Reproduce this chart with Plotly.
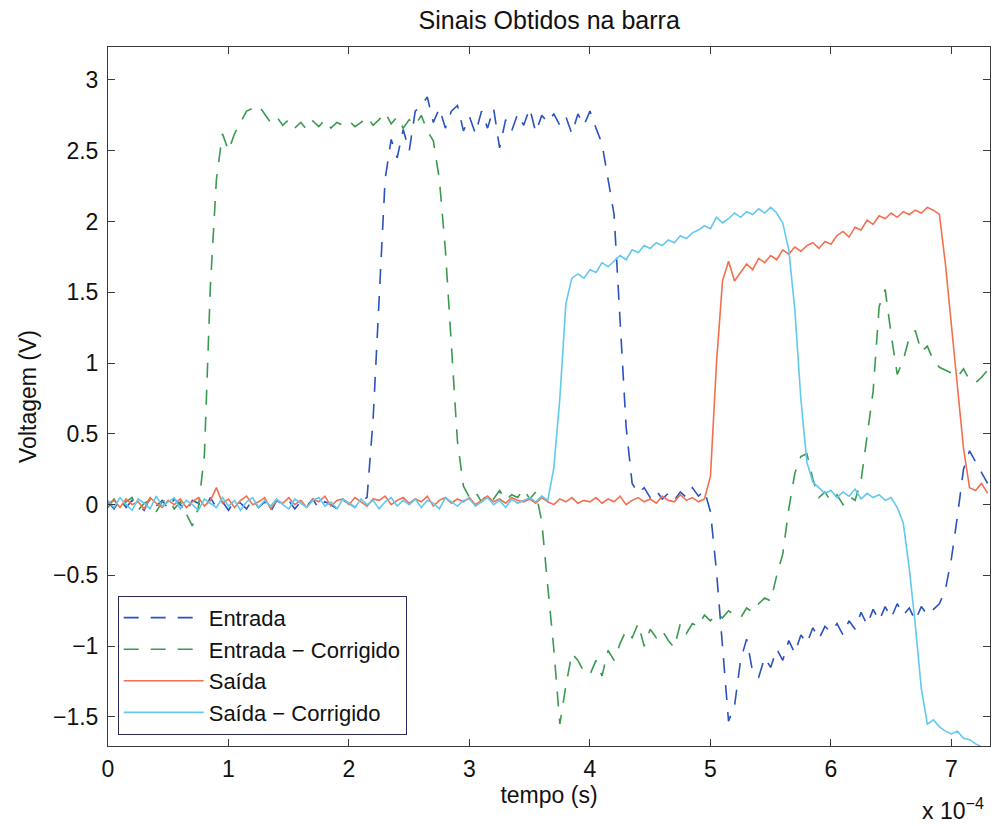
import plotly.graph_objects as go

# time base in units of 1e-4 s (sample spacing 0.05e-4 s), 0 .. 7.30
t = [round(i * 0.05, 2) for i in range(147)]

entrada = [
    0.02, -0.03, 0.04, -0.02, 0.03, 0.00, -0.04, 0.05, -0.01, 0.03,
    -0.03, 0.04, 0.00, -0.05, 0.03, 0.01, -0.03, 0.05, -0.02, 0.02,
    -0.04, 0.03, 0.01, -0.03, 0.04, -0.02, 0.02, -0.05, 0.03, 0.00,
    0.03, -0.03, 0.02, -0.01, 0.04, -0.03, 0.02, 0.00, -0.03, 0.03,
    0.01, -0.02, 0.03, 0.05, 0.60, 1.50, 2.30, 2.58, 2.45, 2.65,
    2.50, 2.78, 2.82, 2.88, 2.70, 2.80, 2.66, 2.78, 2.82, 2.64,
    2.74, 2.62, 2.78, 2.66, 2.80, 2.52, 2.72, 2.64, 2.76, 2.68,
    2.80, 2.63, 2.75, 2.70, 2.76, 2.68, 2.74, 2.62, 2.76, 2.68,
    2.78, 2.66, 2.55, 2.30, 2.05, 1.30, 0.55, 0.15, 0.08, 0.12,
    0.05, 0.10, 0.04, 0.08, 0.03, 0.09, 0.05, 0.12, 0.06, 0.10,
    -0.05, -0.47, -1.00, -1.53, -1.42, -1.10, -0.95, -1.18, -1.22, -1.08,
    -1.15, -1.02, -1.10, -0.96, -1.05, -0.92, -0.98, -0.87, -0.95, -0.86,
    -0.90, -0.84, -0.92, -0.82, -0.88, -0.76, -0.85, -0.74, -0.82, -0.72,
    -0.80, -0.70, -0.78, -0.73, -0.82, -0.72, -0.78, -0.74, -0.70, -0.60,
    -0.38, -0.08, 0.25, 0.38, 0.30, 0.22, 0.15,
]

entrada_corrigido = [
    -0.02, 0.04, -0.03, 0.02, 0.05, -0.04, 0.01, 0.03, -0.05, 0.02,
    0.04, -0.03, 0.02, -0.06, -0.15, -0.02, 0.35, 1.55, 2.30, 2.62,
    2.50, 2.62, 2.70, 2.78, 2.80, 2.82, 2.76, 2.70, 2.74, 2.68,
    2.72, 2.66, 2.70, 2.65, 2.71, 2.67, 2.72, 2.66, 2.70, 2.68,
    2.71, 2.67, 2.70, 2.74, 2.68, 2.72, 2.77, 2.69, 2.74, 2.66,
    2.72, 2.68, 2.75, 2.64, 2.57, 2.30, 1.80, 1.15, 0.45, 0.13,
    0.05, 0.09, 0.02, 0.08, 0.04, 0.10, 0.03, 0.07, 0.05, 0.11,
    0.04, 0.09, -0.12, -0.58, -1.02, -1.55, -1.28, -1.05, -1.10, -1.18,
    -1.20, -1.10, -1.21, -1.03, -1.10, -0.98, -0.89, -0.94, -0.84, -1.00,
    -0.88, -0.94, -0.89, -0.96, -1.01, -0.84, -0.91, -0.84, -0.86, -0.78,
    -0.82, -0.77, -0.80, -0.75, -0.78, -0.80, -0.73, -0.76, -0.70, -0.66,
    -0.68, -0.50, -0.35, -0.03, 0.22, 0.34, 0.36, 0.18, 0.05, 0.09,
    0.02, 0.07, 0.00, 0.06, 0.03, 0.17, 0.50, 0.80, 1.40, 1.52,
    1.20, 0.92, 1.02, 1.18, 1.23, 1.08, 1.12, 1.02, 0.97, 0.95,
    0.93, 0.90, 0.96, 0.88, 0.86, 0.90, 0.95,
]

saida = [
    0.01, 0.03, -0.02, 0.04, 0.00, 0.02, -0.03, 0.05, 0.01, -0.02,
    0.03, 0.00, 0.04, -0.02, 0.02, 0.05, -0.01, 0.03, 0.12, 0.01,
    0.04, -0.02, 0.03, 0.06, 0.00, 0.02, 0.05, -0.03, 0.03, 0.01,
    0.05, 0.00, 0.03, -0.02, 0.04, 0.02, 0.06, -0.01, 0.03, 0.04,
    0.00, 0.05, 0.02, -0.01, 0.04, 0.03, 0.06, 0.00, 0.03, 0.05,
    0.01, 0.04, 0.02, 0.06, -0.01, 0.03, 0.05, 0.01, 0.04, 0.02,
    0.05, 0.00, 0.03, 0.06, 0.02, 0.04, 0.01, 0.05, 0.03, 0.02,
    0.04, 0.01, 0.05, 0.02, 0.00, 0.04, 0.02, 0.05, 0.01, 0.03,
    0.02, 0.05, 0.01, 0.04, 0.02, 0.06, 0.00, 0.03, 0.05, 0.02,
    0.04, 0.01, 0.06, 0.03, 0.02, 0.07, 0.03, 0.05, 0.02, 0.04,
    0.20, 1.00, 1.58, 1.72, 1.58, 1.64, 1.70, 1.66, 1.74, 1.71,
    1.76, 1.73, 1.80, 1.77, 1.82, 1.79, 1.83, 1.85, 1.81, 1.86,
    1.84, 1.90, 1.93, 1.89, 1.96, 1.94, 2.01, 1.98, 2.04, 2.02,
    2.06, 2.03, 2.07, 2.05, 2.08, 2.06, 2.10, 2.08, 2.05, 1.70,
    1.25, 0.82, 0.40, 0.12, 0.10, 0.15, 0.08,
]

saida_corrigido = [
    0.03, -0.02, 0.05, 0.00, -0.04, 0.04, 0.01, -0.03, 0.06, -0.01,
    0.02, 0.05, -0.03, 0.03, 0.00, -0.04, 0.04, 0.01, -0.02, 0.05,
    -0.01, 0.03, -0.04, 0.02, 0.05, -0.02, 0.03, -0.01, 0.04, 0.00,
    -0.03, 0.04, 0.01, -0.02, 0.03, 0.05, -0.01, 0.02, -0.03, 0.04,
    0.01, -0.02, 0.04, 0.00, 0.03, -0.03, 0.02, 0.05, -0.01, 0.03,
    0.00, 0.04, -0.02, 0.03, 0.01, -0.03, 0.05, 0.02, -0.01, 0.03,
    0.04, -0.01, 0.02, 0.05, 0.00, 0.03, -0.02, 0.04, 0.01, 0.03,
    0.05, 0.02, 0.06, 0.03, 0.26, 0.75, 1.42, 1.60, 1.63, 1.60,
    1.66, 1.64, 1.71, 1.68, 1.72, 1.76, 1.73, 1.80, 1.78, 1.83,
    1.81, 1.85, 1.83, 1.87, 1.85, 1.90, 1.88, 1.92, 1.94, 1.97,
    1.95, 2.03, 1.99, 2.02, 2.06, 2.03, 2.07, 2.05, 2.09, 2.06,
    2.10, 2.06, 1.99, 1.80, 1.38, 0.75, 0.30, 0.16, 0.12, 0.08,
    0.10, 0.05, 0.09, 0.06, 0.11, 0.04, 0.08, 0.05, 0.07, 0.03,
    0.05, -0.02, -0.13, -0.45, -0.85, -1.30, -1.55, -1.52, -1.57, -1.60,
    -1.62, -1.60, -1.65, -1.66, -1.69, -1.71, -1.72,
]

series_names = ["Entrada", "Entrada − Corrigido", "Saída", "Saída − Corrigido"]
x_ticks = [0, 1, 2, 3, 4, 5, 6, 7]
y_ticks = [-1.5, -1, -0.5, 0, 0.5, 1, 1.5, 2, 2.5, 3]
y_tick_text = ["−1.5", "−1", "−0.5", "0", "0.5", "1", "1.5", "2", "2.5", "3"]

FONT = "Liberation Sans, Arial, Helvetica, sans-serif"

fig = go.Figure()
styles = [
    (entrada, "#2a52c0", "15px,12px"),
    (entrada_corrigido, "#3a9a50", "15px,12px"),
    (saida, "#f2704e", "solid"),
    (saida_corrigido, "#62c8ee", "solid"),
]
for name, (vals, col, dash) in zip(series_names, styles):
    fig.add_trace(go.Scatter(
        x=t, y=vals, mode="lines", name=name,
        line=dict(color=col, width=1.6, dash=dash),
    ))

axis_common = dict(
    showgrid=False, zeroline=False, showline=True, linecolor="#3a3a3a",
    linewidth=1, mirror="ticks", ticks="inside", ticklen=7,
    tickcolor="#3a3a3a", tickfont=dict(family=FONT, size=23, color="#111"),
)

fig.update_layout(
    width=994, height=826,
    margin=dict(l=108, r=4, t=47, b=80),
    paper_bgcolor="white", plot_bgcolor="white",
    font=dict(family=FONT, size=23, color="#111"),
    title=dict(text="Sinais Obtidos na barra", x=0.5525, xanchor="center",
               y=0.975, yanchor="middle", font=dict(family=FONT, size=25, color="#111")),
    xaxis=dict(range=[0, 7.32], tickvals=x_ticks, ticktext=[str(v) for v in x_ticks],
               title=dict(text="tempo (s)", standoff=6, font=dict(family=FONT, size=23)),
               ticklabelstandoff=2, **axis_common),
    yaxis=dict(range=[-1.705, 3.233], tickvals=y_ticks, ticktext=y_tick_text,
               title=dict(text="Voltagem (V)", standoff=9, font=dict(family=FONT, size=23)),
               ticklabelstandoff=4, **axis_common),
    legend=dict(x=0.011, y=0.016, xanchor="left", yanchor="bottom",
                bgcolor="white", bordercolor="#2a2a5a", borderwidth=1,
                font=dict(family=FONT, size=22, color="#111"), itemwidth=80,
                tracegroupgap=0),
    showlegend=True,
)

fig.add_annotation(text="x 10<sup>−4</sup>", xref="paper", yref="paper",
                   x=0.958, y=-0.09, xanchor="center", yanchor="middle",
                   showarrow=False, font=dict(family=FONT, size=23, color="#111"))

fig.write_html("out.html")
